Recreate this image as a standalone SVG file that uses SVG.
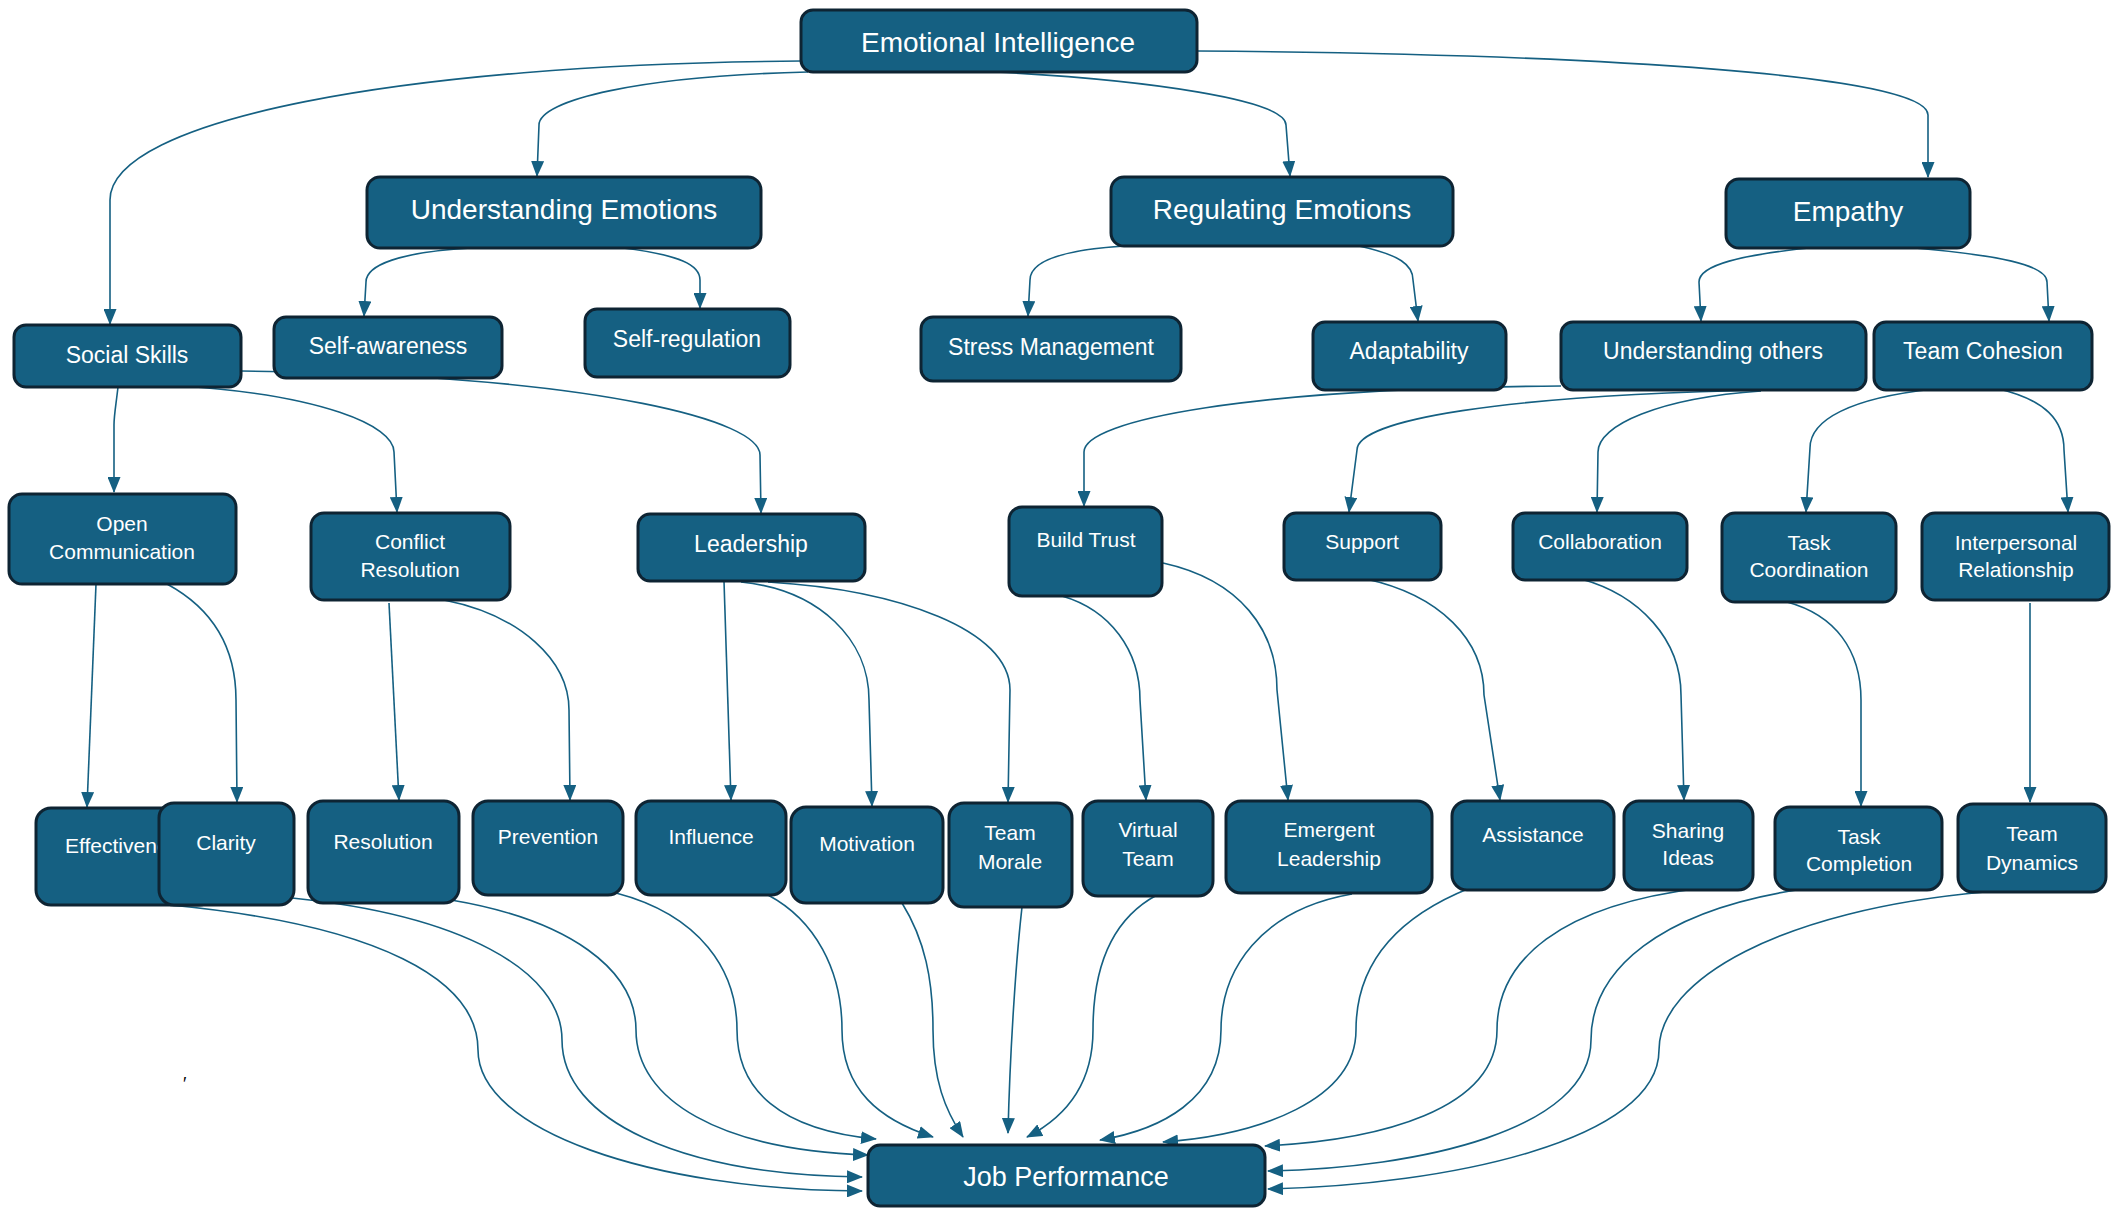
<svg xmlns="http://www.w3.org/2000/svg" width="2112" height="1208" viewBox="0 0 2112 1208">
<defs>
<style>
.n rect{fill:#156082;stroke:#0e2433;stroke-width:3}
.n text{fill:#ffffff;font-family:"Liberation Sans",Arial,sans-serif;text-anchor:middle}
.t1{font-size:28px}
.t2{font-size:23px}
.t3{font-size:21px}
#conn path{fill:none;stroke:#156082;stroke-width:1.6;marker-end:url(#ah)}
</style>
<marker id="ah" viewBox="0 0 16 13" refX="15" refY="6.5" markerWidth="16" markerHeight="13" markerUnits="userSpaceOnUse" orient="auto"><path d="M0,0 L16,6.5 L0,13 z" fill="#156082"/></marker>
</defs>
<rect width="2112" height="1208" fill="#ffffff"/>
<g id="conn">
<path d="M801,61 C400,64 110,120 110,200 L110,324"/>
<path d="M808,72 C640,76 539,100 539,125 L537,176"/>
<path d="M995,72 C1150,80 1286,100 1286,125 L1290,176"/>
<path d="M1197,51 C1600,54 1928,75 1928,115 L1928,177"/>
<path d="M471,248 C400,252 366,265 366,282 L364,316"/>
<path d="M623,248 C680,255 700,265 700,280 L700,308"/>
<path d="M1125,246 C1060,250 1030,262 1030,280 L1028,316"/>
<path d="M1359,246 C1400,255 1413,265 1413,280 L1418,321"/>
<path d="M1817,247 C1740,255 1699,265 1699,282 L1701,321"/>
<path d="M1904,247 C2000,255 2047,265 2047,282 L2049,321"/>
<path d="M118,387 C116,405 114,415 114,425 L114,492"/>
<path d="M182,386 C320,395 394,425 394,452 L397,512"/>
<path d="M241,371 L300,372 C600,380 760,420 760,455 L761,513"/>
<path d="M1561,386 C1250,388 1084,420 1084,452 L1084,506"/>
<path d="M1771,390 C1500,395 1357,420 1357,450 L1349,512"/>
<path d="M1761,391 C1660,398 1598,425 1598,452 L1597,512"/>
<path d="M1934,389 C1850,398 1810,420 1810,448 L1806,512"/>
<path d="M1999,389 C2045,400 2064,420 2064,450 L2068,512"/>
<path d="M96,584 L87,807"/>
<path d="M167,584 C215,610 236,650 236,700 L237,802"/>
<path d="M389,603 L399,800"/>
<path d="M444,600 C520,615 569,660 569,710 L570,800"/>
<path d="M724,581 L731,800"/>
<path d="M741,582 C820,590 869,640 869,700 L872,806"/>
<path d="M768,582 C900,590 1010,630 1010,690 L1008,802"/>
<path d="M1062,596 C1110,610 1140,650 1140,700 L1146,800"/>
<path d="M1163,563 C1240,580 1277,630 1277,690 L1288,800"/>
<path d="M1366,579 C1440,595 1484,640 1484,695 L1500,800"/>
<path d="M1581,579 C1640,595 1681,640 1681,695 L1684,800"/>
<path d="M1787,602 C1835,615 1861,650 1861,700 L1861,806"/>
<path d="M2030,603 L2030,802"/>
<path d="M170,905 C380,925 478,980 478,1050 C478,1130 650,1190 862,1191"/>
<path d="M292,898 C460,915 562,970 562,1040 C562,1120 680,1175 862,1177"/>
<path d="M451,900 C570,920 636,970 636,1030 C636,1100 720,1150 868,1155"/>
<path d="M616,893 C700,915 737,970 737,1030 C737,1090 780,1130 876,1139"/>
<path d="M768,895 C815,920 842,970 842,1030 C842,1090 880,1120 933,1137"/>
<path d="M902,903 C925,940 933,980 933,1030 C933,1080 945,1110 963,1137"/>
<path d="M1022,907 C1016,960 1010,1050 1008,1133"/>
<path d="M1157,895 C1110,920 1093,970 1093,1030 C1093,1090 1060,1120 1027,1137"/>
<path d="M1352,894 C1260,910 1221,970 1221,1030 C1221,1100 1160,1130 1100,1140"/>
<path d="M1470,888 C1390,920 1356,970 1356,1030 C1356,1100 1260,1135 1163,1142"/>
<path d="M1702,888 C1560,905 1497,960 1497,1030 C1497,1110 1380,1140 1265,1146"/>
<path d="M1803,889 C1660,910 1591,970 1591,1040 C1591,1130 1420,1168 1268,1171"/>
<path d="M1985,892 C1780,910 1659,980 1659,1050 C1659,1140 1450,1185 1268,1189"/>
</g>
<g id="ei" class="n"><rect x="801" y="10" width="396" height="62" rx="12"/><text class="t1" x="998" y="52">Emotional Intelligence</text></g>
<g id="understanding-emotions" class="n"><rect x="367" y="177" width="394" height="71" rx="13"/><text class="t1" x="564" y="219">Understanding Emotions</text></g>
<g id="regulating-emotions" class="n"><rect x="1111" y="177" width="342" height="69" rx="13"/><text class="t1" x="1282" y="219">Regulating Emotions</text></g>
<g id="empathy" class="n"><rect x="1726" y="179" width="244" height="69" rx="13"/><text class="t1" x="1848" y="221">Empathy</text></g>
<g id="social-skills" class="n"><rect x="14" y="325" width="227" height="62" rx="12"/><text class="t2" x="127" y="363">Social Skills</text></g>
<g id="self-awareness" class="n"><rect x="274" y="317" width="228" height="61" rx="12"/><text class="t2" x="388" y="354">Self-awareness</text></g>
<g id="self-regulation" class="n"><rect x="585" y="309" width="205" height="68" rx="12"/><text class="t2" x="687" y="347">Self-regulation</text></g>
<g id="stress-management" class="n"><rect x="921" y="317" width="260" height="64" rx="12"/><text class="t2" x="1051" y="355">Stress Management</text></g>
<g id="adaptability" class="n"><rect x="1313" y="322" width="193" height="68" rx="12"/><text class="t2" x="1409" y="359">Adaptability</text></g>
<g id="understanding-others" class="n"><rect x="1561" y="322" width="305" height="68" rx="12"/><text class="t2" x="1713" y="359">Understanding others</text></g>
<g id="team-cohesion" class="n"><rect x="1874" y="322" width="218" height="68" rx="12"/><text class="t2" x="1983" y="359">Team Cohesion</text></g>
<g id="open-communication" class="n"><rect x="9" y="494" width="227" height="90" rx="13"/><text class="t3" x="122" y="531">Open<tspan x="122" y="559">Communication</tspan></text></g>
<g id="conflict-resolution" class="n"><rect x="311" y="513" width="199" height="87" rx="13"/><text class="t3" x="410" y="549">Conflict<tspan x="410" y="577">Resolution</tspan></text></g>
<g id="leadership" class="n"><rect x="638" y="514" width="227" height="67" rx="12"/><text class="t2" x="751" y="552">Leadership</text></g>
<g id="build-trust" class="n"><rect x="1009" y="507" width="153" height="89" rx="13"/><text class="t3" x="1086" y="547">Build Trust</text></g>
<g id="support" class="n"><rect x="1284" y="513" width="157" height="67" rx="12"/><text class="t3" x="1362" y="549">Support</text></g>
<g id="collaboration" class="n"><rect x="1513" y="513" width="174" height="67" rx="12"/><text class="t3" x="1600" y="549">Collaboration</text></g>
<g id="task-coordination" class="n"><rect x="1722" y="513" width="174" height="89" rx="13"/><text class="t3" x="1809" y="550">Task<tspan x="1809" y="577">Coordination</tspan></text></g>
<g id="interpersonal-relationship" class="n"><rect x="1922" y="513" width="187" height="87" rx="13"/><text class="t3" x="2016" y="550">Interpersonal<tspan x="2016" y="577">Relationship</tspan></text></g>
<g id="effectiveness" class="n"><rect x="36" y="808" width="178" height="97" rx="15"/><text class="t3" x="65" y="853" style="text-anchor:start">Effectiveness</text></g>
<g id="clarity" class="n"><rect x="159" y="803" width="135" height="102" rx="15"/><text class="t3" x="226" y="850">Clarity</text></g>
<g id="resolution" class="n"><rect x="308" y="801" width="151" height="102" rx="15"/><text class="t3" x="383" y="849">Resolution</text></g>
<g id="prevention" class="n"><rect x="473" y="801" width="150" height="94" rx="15"/><text class="t3" x="548" y="844">Prevention</text></g>
<g id="influence" class="n"><rect x="636" y="801" width="150" height="94" rx="15"/><text class="t3" x="711" y="844">Influence</text></g>
<g id="motivation" class="n"><rect x="791" y="807" width="152" height="96" rx="15"/><text class="t3" x="867" y="851">Motivation</text></g>
<g id="team-morale" class="n"><rect x="949" y="803" width="123" height="104" rx="15"/><text class="t3" x="1010" y="840">Team<tspan x="1010" y="869">Morale</tspan></text></g>
<g id="virtual-team" class="n"><rect x="1083" y="801" width="130" height="95" rx="15"/><text class="t3" x="1148" y="837">Virtual<tspan x="1148" y="866">Team</tspan></text></g>
<g id="emergent-leadership" class="n"><rect x="1226" y="801" width="206" height="92" rx="15"/><text class="t3" x="1329" y="837">Emergent<tspan x="1329" y="866">Leadership</tspan></text></g>
<g id="assistance" class="n"><rect x="1452" y="801" width="162" height="89" rx="15"/><text class="t3" x="1533" y="842">Assistance</text></g>
<g id="sharing-ideas" class="n"><rect x="1624" y="801" width="129" height="89" rx="15"/><text class="t3" x="1688" y="838">Sharing<tspan x="1688" y="865">Ideas</tspan></text></g>
<g id="task-completion" class="n"><rect x="1775" y="807" width="167" height="83" rx="15"/><text class="t3" x="1859" y="844">Task<tspan x="1859" y="871">Completion</tspan></text></g>
<g id="team-dynamics" class="n"><rect x="1958" y="804" width="148" height="88" rx="15"/><text class="t3" x="2032" y="841">Team<tspan x="2032" y="870">Dynamics</tspan></text></g>
<g id="job-performance" class="n"><rect x="868" y="1145" width="397" height="61" rx="12"/><text class="t1" x="1066" y="1186" style="font-size:27px">Job Performance</text></g>
<text x="183" y="1090" style="font-family:'Liberation Sans',Arial,sans-serif;font-size:18px;fill:#000">′</text>
</svg>
